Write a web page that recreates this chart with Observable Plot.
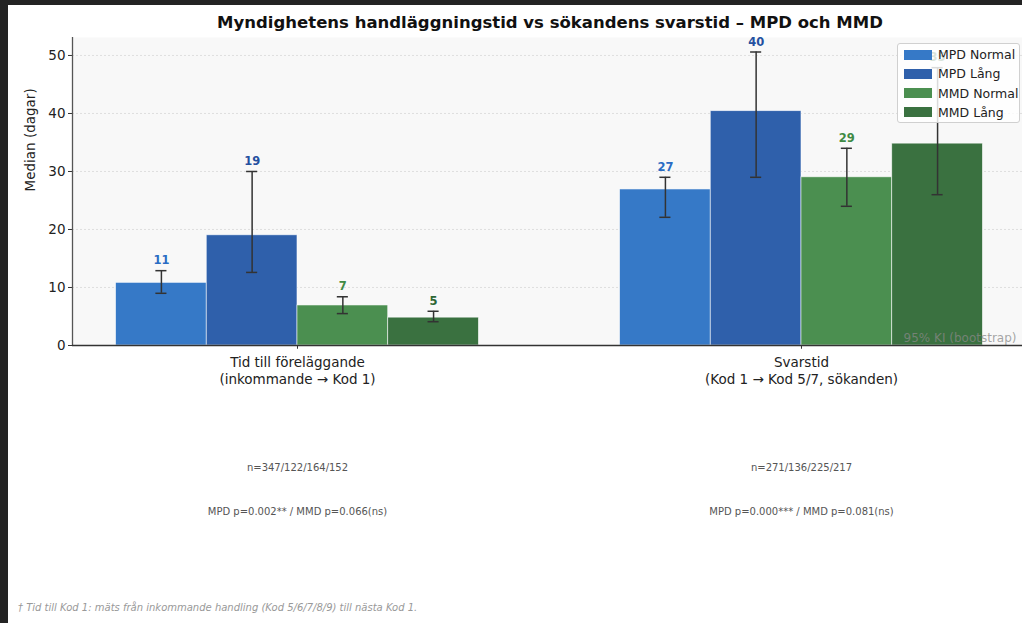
<!DOCTYPE html>
<html><head><meta charset="utf-8">
<script src="https://cdn.jsdelivr.net/npm/d3@7"></script>
<script src="https://cdn.jsdelivr.net/npm/@observablehq/plot@0.6"></script>
<style>
html,body{margin:0;padding:0;background:#232323;width:1022px;height:623px;overflow:hidden;font-family:"DejaVu Sans",sans-serif;}
#fig{position:absolute;left:8px;top:5px;width:1014px;height:618px;background:#fff;overflow:hidden;}
#title{position:absolute;left:0;width:1084px;top:8px;text-align:center;font-weight:bold;font-size:16.5px;color:#111;}
#chart{position:absolute;left:0;top:0;}
#legend{position:absolute;left:889px;top:38px;width:123px;height:80px;background:rgba(255,255,255,0.82);border:1px solid #d0d0d0;border-radius:3px;box-sizing:border-box;font-size:12.5px;color:#222;}
.row{position:absolute;left:6px;height:19px;display:flex;align-items:center;}
.sw{width:28px;height:10px;margin-right:6px;}
#foot{position:absolute;left:10px;top:597px;font-size:10px;font-style:italic;color:#999;}
</style></head><body>
<div id="fig">
<div id="chart"></div>
<div id="title">Myndighetens handläggningstid vs sökandens svarstid – MPD och MMD</div>
<div id="legend"></div>
<div id="foot">† Tid till Kod 1: mäts från inkommande handling (Kod 5/6/7/8/9) till nästa Kod 1.</div>
</div>
<script>
const categories = ["Tid till föreläggande\n(inkommande → Kod 1)", "Svarstid\n(Kod 1 → Kod 5/7, sökanden)"];
const series = ["MPD Normal", "MPD Lång", "MMD Normal", "MMD Lång"];
const colors = ["#3679c7", "#2f60ab", "#4b8f50", "#3a7140"];
const labelColors = ["#2a6cc4", "#2450a0", "#3f8a44", "#2e6634"];
const medians = [[10.8, 19.0, 6.9, 4.8], [26.9, 40.4, 29.0, 34.8]];
const ciLow = [[9.0, 12.6, 5.5, 4.1], [22.1, 29.0, 24.0, 26.0]];
const ciHigh = [[12.9, 30.0, 8.4, 5.9], [29.0, 50.6, 34.0, 47.9]];
const nTexts = ["n=347/122/164/152", "n=271/136/225/217"];
const pTexts = ["MPD p=0.002** / MMD p=0.066(ns)", "MPD p=0.000*** / MMD p=0.081(ns)"];
const yTicks = [0, 10, 20, 30, 40, 50];

const bw = 0.18;
const rows = [];
categories.forEach((c, gi) => series.forEach((s, si) => {
  const cx = gi + (si - 1.5) * bw;
  rows.push({gi, si, s, x1: cx - bw / 2, x2: cx + bw / 2, cx, v: medians[gi][si], lo: ciLow[gi][si], hi: ciHigh[gi][si], label: String(Math.round(medians[gi][si]))});
}));
const capW = 0.011;
const cats = categories.map((c, i) => ({i, c, n: nTexts[i], p: pTexts[i]}));

const chart = Plot.plot({
  width: 1014, height: 520,
  marginLeft: 64, marginRight: 0, marginTop: 32, marginBottom: 180,
  style: {fontFamily: "DejaVu Sans, sans-serif", fontSize: "13px", color: "#222", background: "transparent", overflow: "visible"},
  x: {domain: [-0.4464, 1.4385], axis: null},
  y: {domain: [0, 53.1], axis: null},
  marks: [
    Plot.frame({fill: "#f8f8f8", stroke: null}),
    Plot.ruleY(yTicks.filter(d => d > 0), {stroke: "#d8d8d8", strokeDasharray: "2,2", strokeWidth: 0.8}),
    Plot.rect(rows, {x1: "x1", x2: "x2", y1: 0, y2: "v", fill: d => colors[d.si], stroke: "#ffffff", strokeWidth: 0.8, strokeOpacity: 0.7}),
    Plot.text(["95% KI (bootstrap)"], {frameAnchor: "bottom-right", text: d => d, dx: -6, dy: -4, fill: "#888", fillOpacity: 0.75, fontSize: 12, textAnchor: "end"}),
    Plot.ruleX(rows, {x: "cx", y1: "lo", y2: "hi", stroke: "#333", strokeWidth: 1.5}),
    Plot.ruleY(rows, {y: "lo", x1: d => d.cx - capW, x2: d => d.cx + capW, stroke: "#333", strokeWidth: 1.5}),
    Plot.ruleY(rows, {y: "hi", x1: d => d.cx - capW, x2: d => d.cx + capW, stroke: "#333", strokeWidth: 1.5}),
    Plot.text(rows, {x: "cx", y: "hi", text: "label", dy: -10, fill: d => labelColors[d.si], fontWeight: "bold", fontSize: 11.5}),
    Plot.axisY({ticks: yTicks, tickSize: 4, fontSize: 13.5, tickPadding: 3, label: null, stroke: "#333"}),
    Plot.text(["Median (dagar)"], {frameAnchor: "left", text: d => d, rotate: -90, dx: -42, fontSize: 13.5, fill: "#222"}),
    Plot.ruleX([-0.4464], {stroke: "#555", strokeWidth: 1.3}),
    Plot.ruleY([0], {stroke: "#333", strokeWidth: 1.3}),
    Plot.ruleX(cats, {x: "i", y1: 0, y2: -0.65, stroke: "#333", strokeWidth: 1}),
    Plot.text(cats, {x: "i", frameAnchor: "bottom", text: "c", dy: 9, lineAnchor: "top", lineHeight: 1.28, fontSize: 13.5, fill: "#222"}),
    Plot.text(cats, {x: "i", frameAnchor: "bottom", text: "n", dy: 125, fontSize: 10, fill: "#555"}),
    Plot.text(cats, {x: "i", frameAnchor: "bottom", text: "p", dy: 169, fontSize: 10, fill: "#555"})
  ]
});
document.getElementById("chart").appendChild(chart);

const lg = document.getElementById("legend");
series.forEach((s, i) => {
  const r = document.createElement("div");
  r.className = "row";
  r.style.top = (1 + i * 19.3) + "px";
  r.innerHTML = `<div class="sw" style="background:${colors[i]}"></div><span>${s}</span>`;
  lg.appendChild(r);
});
</script>
</body></html>
